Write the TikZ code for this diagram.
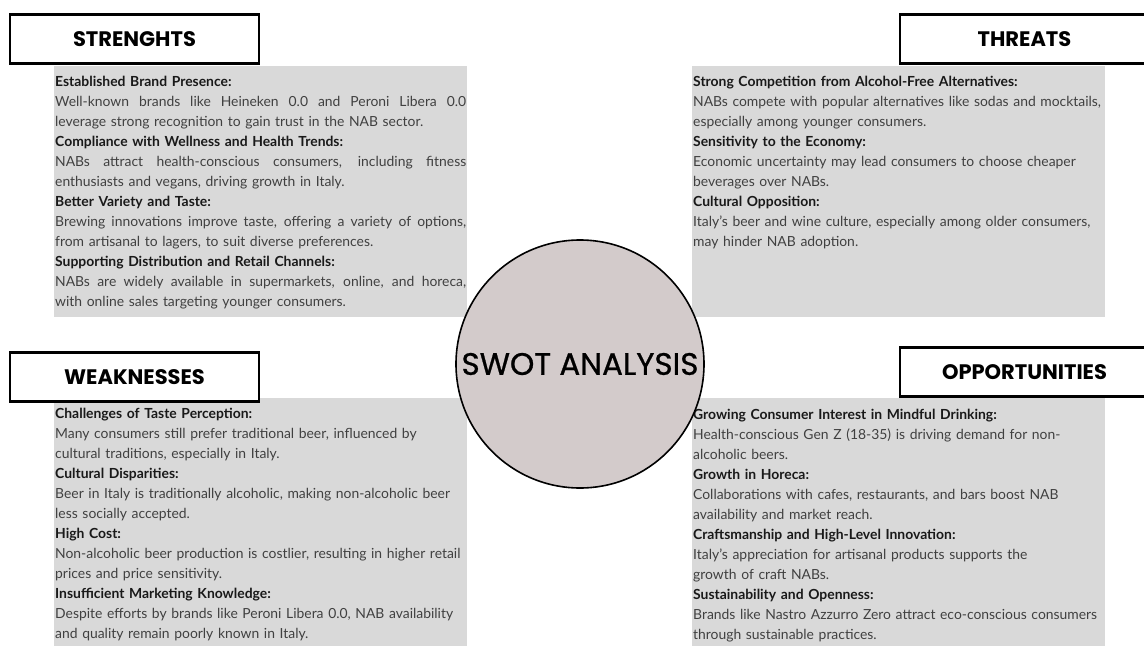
\documentclass[tikz,border=0pt]{standalone}
\usepackage{fontspec}
\setmainfont{Lato}
\newfontfamily\titlefont{Poppins}
\newfontfamily\hubfont{Poppins}[FakeBold=0.8]
\usetikzlibrary{positioning}
\definecolor{panelgray}{HTML}{D9D9D9}
\definecolor{circlegray}{HTML}{D3CBCB}
\definecolor{bodygray}{HTML}{404040}
\newcommand{\itemhead}[1]{{\bfseries\color{black!90}#1}}
\newcommand{\fullline}[1]{\leavevmode\hbox to 411pt{\spaceskip=0.25em plus 1fil\xspaceskip=0.25em plus 1fil\relax #1}}

\begin{document}
\begin{tikzpicture}
		[x=1pt,y=-1pt,
		label/.style ={rectangle, draw=black, line width=2.6pt, fill=white, minimum width=249pt, minimum height=49pt, inner sep=0pt, font=\titlefont\bfseries\fontsize{21}{25}\selectfont},
		panel/.style ={fill=panelgray},
		body/.style ={anchor=north west, inner sep=0pt, text width=411pt, align=left, text=bodygray, font=\fontsize{13.9}{20}\selectfont},
		hub/.style ={circle, draw=black, line width=1.6pt, fill=circlegray, minimum size=248pt, inner sep=0pt, font=\hubfont\fontsize{31}{36}\selectfont}]
		\useasboundingbox (0,0) rectangle (1144,646);

		\fill[panel] (54,66) rectangle (467,317);
		\fill[panel] (692,66) rectangle (1105,317);
		\fill[panel] (54,398) rectangle (467,646);
		\fill[panel] (692,398) rectangle (1105,646);

		\node[label] (strengths) at (134.5,39) {STRENGHTS};
		\node[label] (threats) at (1024.5,39) {THREATS};
		\node[label] (weaknesses) at (134.5,377) {WEAKNESSES};
		\node[label] (opportunities) at (1024.5,372) {OPPORTUNITIES};

		\node[body] (stext) at (55,76) {
			\itemhead{Established Brand Presence:}\\
			\fullline{Well-known brands like Heineken 0.0 and Peroni Libera 0.0}\\
			leverage strong recognition to gain trust in the NAB sector.\\
			\itemhead{Compliance with Wellness and Health Trends:}\\
			\fullline{NABs attract health-conscious consumers, including fitness}\\
			enthusiasts and vegans, driving growth in Italy.\\
			\itemhead{Better Variety and Taste:}\\
			\fullline{Brewing innovations improve taste, offering a variety of options,}\\
			from artisanal to lagers, to suit diverse preferences.\\
			\itemhead{Supporting Distribution and Retail Channels:}\\
			\fullline{NABs are widely available in supermarkets, online, and horeca,}\\
			with online sales targeting younger consumers.};

		\node[body] (ttext) at (693,76) {
			\itemhead{Strong Competition from Alcohol-Free Alternatives:}\\
			NABs compete with popular alternatives like sodas and mocktails,\\
			especially among younger consumers.\\
			\itemhead{Sensitivity to the Economy:}\\
			Economic uncertainty may lead consumers to choose cheaper\\
			beverages over NABs.\\
			\itemhead{Cultural Opposition:}\\
			Italy’s beer and wine culture, especially among older consumers,\\
			may hinder NAB adoption.};

		\node[body] (wtext) at (55,408) {
			\itemhead{Challenges of Taste Perception:}\\
			Many consumers still prefer traditional beer, influenced by\\
			cultural traditions, especially in Italy.\\
			\itemhead{Cultural Disparities:}\\
			Beer in Italy is traditionally alcoholic, making non-alcoholic beer\\
			less socially accepted.\\
			\itemhead{High Cost:}\\
			Non-alcoholic beer production is costlier, resulting in higher retail\\
			prices and price sensitivity.\\
			\itemhead{Insufficient Marketing Knowledge:}\\
			Despite efforts by brands like Peroni Libera 0.0, NAB availability\\
			and quality remain poorly known in Italy.};

		\node[body] (otext) at (693,409) {
			\itemhead{Growing Consumer Interest in Mindful Drinking:}\\
			Health-conscious Gen Z (18-35) is driving demand for non-\\
			alcoholic beers.\\
			\itemhead{Growth in Horeca:}\\
			Collaborations with cafes, restaurants, and bars boost NAB\\
			availability and market reach.\\
			\itemhead{Craftsmanship and High-Level Innovation:}\\
			Italy’s appreciation for artisanal products supports the\\
			growth of craft NABs.\\
			\itemhead{Sustainability and Openness:}\\
			Brands like Nastro Azzurro Zero attract eco-conscious consumers\\
			through sustainable practices.};

		\node[hub] (swot) at (580,364) {SWOT ANALYSIS};
	\end{tikzpicture}
\end{document}
